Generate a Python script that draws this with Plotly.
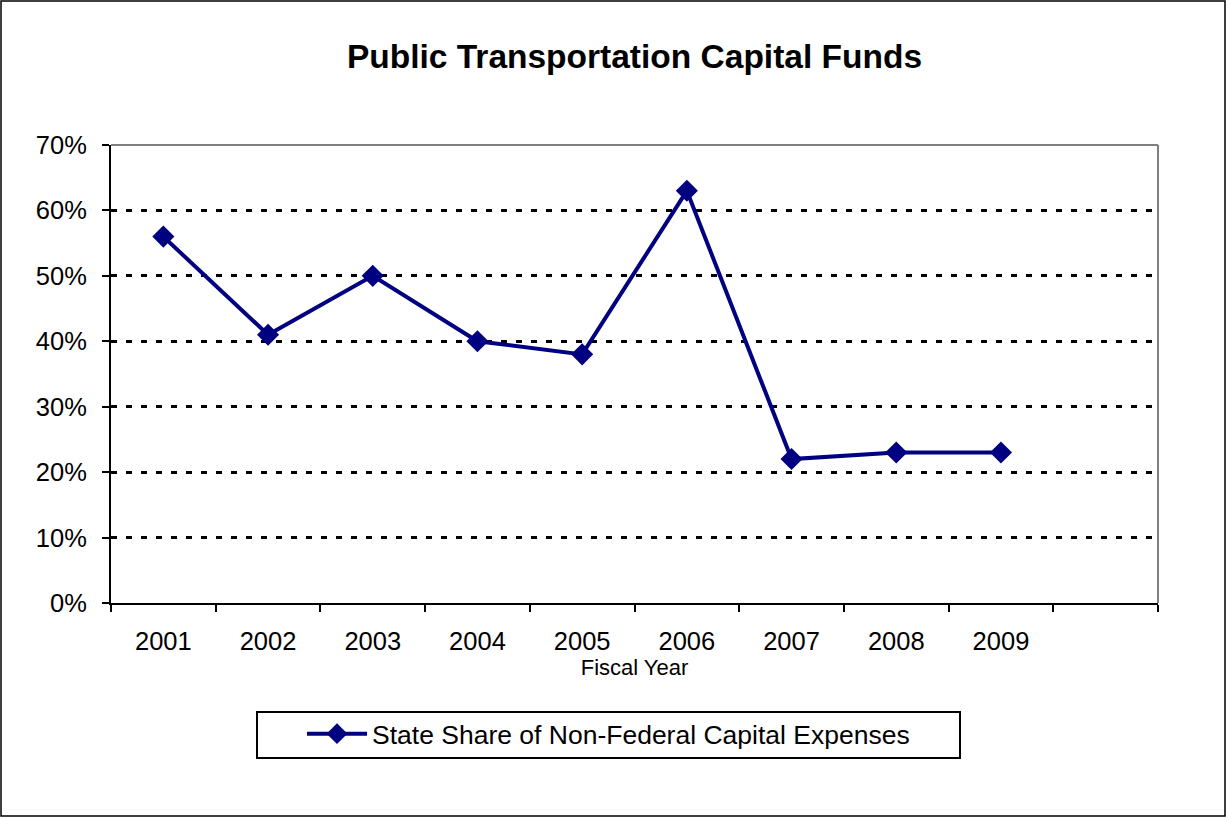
import plotly.graph_objects as go

# ------------------------------------------------------------
# DATA
# ------------------------------------------------------------

years = ["2001", "2002", "2003", "2004", "2005", "2006", "2007", "2008", "2009"]
state_share = [0.56, 0.41, 0.50, 0.40, 0.38, 0.63, 0.22, 0.23, 0.23]
# the chart keeps one empty category slot at the right end
categories = years + [" "]

series_name = "State Share of Non-Federal Capital Expenses"
title = "Public Transportation Capital Funds"
x_title = "Fiscal Year"

# ------------------------------------------------------------
# FIGURE
# ------------------------------------------------------------

W, H = 1226, 818
L, R, T, B = 111, 1158, 145, 603
pw, ph = R - L, B - T

font = "Liberation Sans, Arial, sans-serif"
navy = "#000080"

fig = go.Figure()

fig.add_trace(go.Scatter(
    x=years,
    y=state_share,
    mode="lines+markers",
    name=series_name,
    line=dict(color=navy, width=4),
    marker=dict(symbol="diamond", size=17, color=navy),
))


def px_x(px):
    return (px - L) / pw


def px_y(py):
    return (B - py) / ph


shapes = [
    # plot area border, top and right (gray)
    dict(type="line", xref="paper", yref="paper", x0=0, x1=1, y0=1, y1=1,
         line=dict(color="#808080", width=2), layer="below"),
    dict(type="line", xref="paper", yref="paper", x0=1, x1=1, y0=0, y1=1,
         line=dict(color="#808080", width=2), layer="below"),
    # legend box
    dict(type="rect", xref="paper", yref="paper",
         x0=px_x(257), x1=px_x(960), y0=px_y(758), y1=px_y(712),
         line=dict(color="black", width=2)),
    # outer chart border
    dict(type="rect", xref="paper", yref="paper",
         x0=px_x(1), x1=px_x(1225), y0=px_y(816), y1=px_y(1),
         line=dict(color="black", width=1.5)),
]

fig.update_layout(
    width=W,
    height=H,
    margin=dict(l=L, r=W - R, t=T, b=H - B),
    paper_bgcolor="white",
    plot_bgcolor="white",
    font=dict(family=font, color="black", size=25),
    title=dict(
        text="<b>" + title + "</b>",
        x=0.5, xref="paper", xanchor="center",
        y=1 - 56 / H, yanchor="middle",
        font=dict(size=33.5, family=font),
    ),
    showlegend=True,
    legend=dict(
        x=px_x(302), y=px_y(734), xanchor="left", yanchor="middle",
        bgcolor="rgba(0,0,0,0)", borderwidth=0,
        font=dict(size=26.5, family=font),
        itemwidth=60,
    ),
    shapes=shapes,
)

fig.update_xaxes(
    type="category",
    categoryorder="array",
    categoryarray=categories,
    range=[-0.5, len(categories) - 0.5],
    tickson="boundaries",
    ticks="outside",
    ticklen=7,
    tickwidth=2,
    tickcolor="black",
    showline=True,
    linecolor="black",
    linewidth=2,
    showgrid=False,
    tickfont=dict(size=25.5),
    ticklabelstandoff=14,
    title=dict(text=x_title, font=dict(size=22), standoff=4),
)

fig.update_yaxes(
    range=[0, 0.7],
    dtick=0.1,
    tickformat=".0%",
    ticks="outside",
    ticklen=7,
    tickwidth=2,
    tickcolor="black",
    showline=True,
    linecolor="black",
    linewidth=2,
    showgrid=True,
    gridcolor="black",
    gridwidth=2.5,
    griddash="6px,9px",
    zeroline=False,
    tickfont=dict(size=25.5),
    ticklabelstandoff=10,
)

fig.write_html(
    "out.html",
    config={"displayModeBar": False},
    post_script="document.body.style.margin='0';",
)
